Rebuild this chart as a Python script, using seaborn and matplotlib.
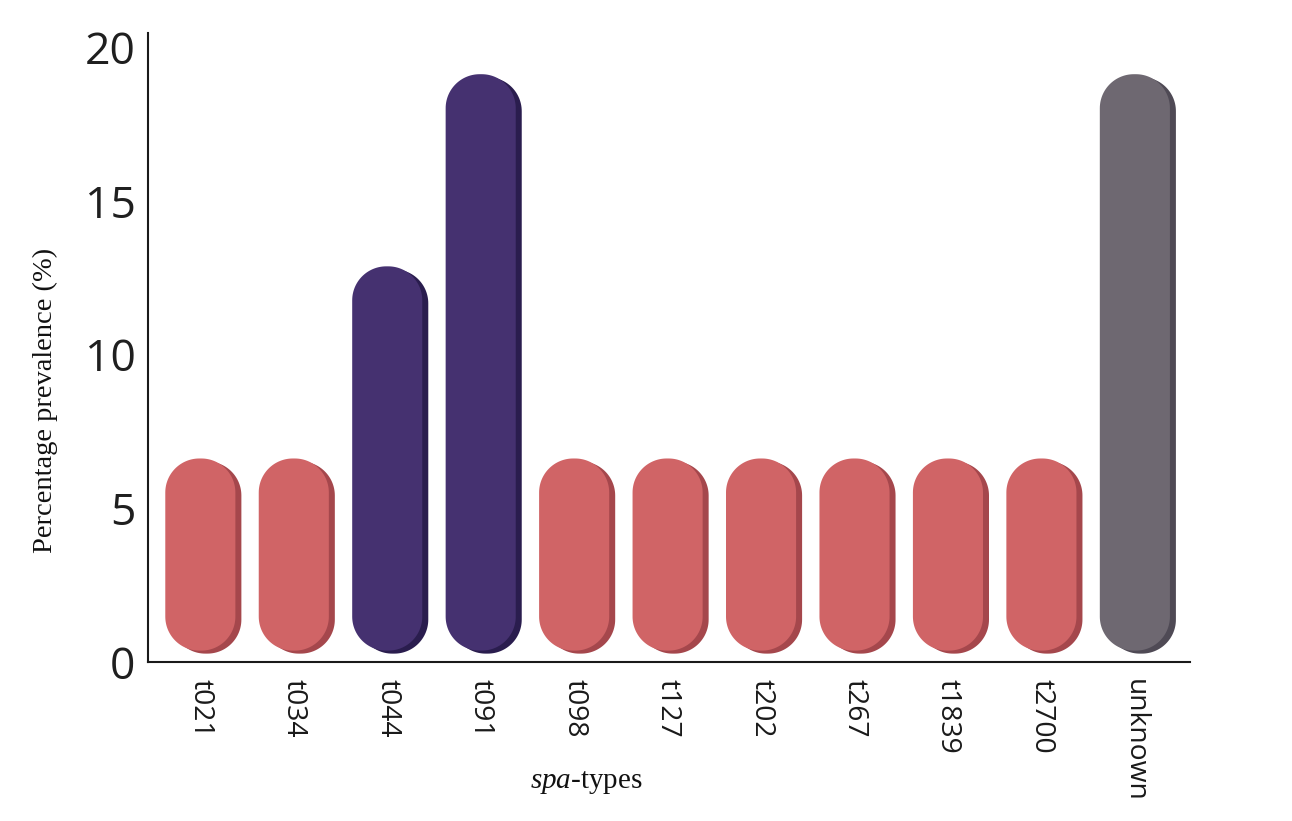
import numpy as np
import pandas as pd
import matplotlib
matplotlib.use("Agg")
import matplotlib.pyplot as plt
import matplotlib.transforms as mtransforms
from matplotlib.patches import PathPatch
from matplotlib.path import Path
import seaborn as sns

# spa-type prevalence data
spa_types = ["t021", "t034", "t044", "t091", "t098", "t127", "t202",
             "t267", "t1839", "t2700", "unknown"]
prevalence = [6.25, 6.25, 12.5, 18.75, 6.25, 6.25, 6.25,
              6.25, 6.25, 6.25, 18.75]
groups = ["single", "single", "common", "common", "single", "single", "single",
          "single", "single", "single", "unknown"]

face_colors = {"single": "#D06466", "common": "#453170", "unknown": "#6E6871"}
side_colors = {"single": "#A5474C", "common": "#2A1D4E", "unknown": "#4F4A55"}

sns.set_theme(style="white")
plt.rcParams["font.family"] = ["Open Sans", "DejaVu Sans"]
plt.rcParams["mathtext.fontset"] = "custom"
plt.rcParams["mathtext.rm"] = "Liberation Serif"
plt.rcParams["mathtext.it"] = "Liberation Serif:italic"

W, H = 1292, 821
fig = plt.figure(figsize=(W / 100, H / 100), dpi=100)
fig.patch.set_facecolor("white")
ax = fig.add_axes([148 / W, 1 - 662 / H, (1190 - 148) / W, (662 - 33) / H])

df = pd.DataFrame({"spa": spa_types, "prev": prevalence, "group": groups})
sns.barplot(data=df, x="spa", y="prev", hue="group", palette=face_colors,
            width=0.75, dodge=False, legend=False, ax=ax)

ax.set_xlim(-0.56, 10.59)
ax.set_ylim(0, 20.46)


def rounded_rect(x0, y0, x1, y1, rx, ry, n=30):
    t = np.linspace(0, np.pi / 2, n)
    pts = []
    for cx, cy, a0 in [(x1 - rx, y0 + ry, -np.pi / 2), (x1 - rx, y1 - ry, 0.0),
                       (x0 + rx, y1 - ry, np.pi / 2), (x0 + rx, y0 + ry, np.pi)]:
        a = a0 + t
        pts.append(np.column_stack([cx + rx * np.cos(a), cy + ry * np.sin(a)]))
    verts = np.vstack(pts + [pts[0][:1]])
    codes = [Path.MOVETO] + [Path.LINETO] * (len(verts) - 2) + [Path.CLOSEPOLY]
    return Path(verts, codes)


# pixel -> data scale for the rounded caps
p0 = ax.transData.transform((0, 0))
p1 = ax.transData.transform((1, 1))
px_per_x = p1[0] - p0[0]
px_per_y = p1[1] - p0[1]
radius_px = 34
rx = radius_px / px_per_x
ry = radius_px / px_per_y
lift = 0.37  # the capsule is raised slightly off the baseline

side_tf = mtransforms.offset_copy(ax.transData, fig=fig, x=6, y=-3, units="dots")

bars = [p for p in ax.patches]
for p in bars:
    h = p.get_height()
    if not np.isfinite(h) or h <= 0:
        p.set_visible(False)
        continue
    x0 = p.get_x()
    w = p.get_width()
    idx = int(round(x0 + w / 2))
    grp = groups[idx]
    p.set_visible(False)
    path = rounded_rect(x0, lift, x0 + w, h + lift, rx, ry)
    ax.add_patch(PathPatch(path, facecolor=side_colors[grp], edgecolor="none",
                           transform=side_tf, zorder=2))
    ax.add_patch(PathPatch(path, facecolor=face_colors[grp], edgecolor="none",
                           transform=ax.transData, zorder=3))

ax.set_yticks([0, 5, 10, 15, 20])
ax.tick_params(axis="y", length=0, pad=9, labelsize=32, labelcolor="#1f1f1f")
ax.tick_params(axis="x", length=0, pad=12, labelsize=20.3, labelcolor="#1a1a1a",
               labelrotation=270)
ax.set_xlabel("")
ax.set_ylabel("")

sns.despine(ax=ax)
for side in ("left", "bottom"):
    ax.spines[side].set_linewidth(1.5)
    ax.spines[side].set_color("#1a1a1a")

fig.text(45 / W, 1 - 400 / H, "Percentage prevalence (%)", rotation=90,
         ha="center", va="center", family="Liberation Serif", fontsize=20.5,
         color="#111111")
fig.text(586 / W, 1 - 782 / H, r"$\it{spa}$-types", ha="center", va="center",
         family="Liberation Serif", fontsize=21, color="#111111")

fig.savefig("out.png", dpi=100, facecolor="white")
